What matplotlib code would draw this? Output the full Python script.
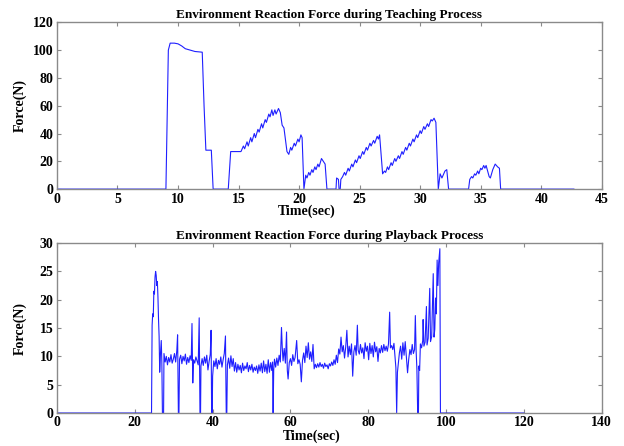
import matplotlib
matplotlib.use("Agg")
import matplotlib.pyplot as plt

# teaching process: (time s, force N)
teach_pts = [
    (0, 0), (9.0, 0), (9.2, 100), (9.35, 105), (9.7, 105), (10.0, 104.5),
    (10.3, 103), (10.6, 101), (11.0, 100), (11.4, 99), (12.0, 98.5),
    (12.15, 60), (12.3, 28), (12.75, 28), (12.9, 0), (14.15, 0), (14.35, 27),
    (15.2, 27), (15.4, 31), (15.5, 29), (15.7, 34), (15.8, 31), (16.0, 37),
    (16.1, 34), (16.3, 40), (16.4, 37), (16.6, 43), (16.7, 41), (16.9, 47),
    (17.0, 44), (17.2, 50), (17.3, 48), (17.5, 54), (17.6, 52), (17.75, 57),
    (17.85, 53), (18.0, 57), (18.1, 54), (18.3, 58), (18.45, 55), (18.6, 46),
    (18.75, 44), (19.0, 27), (19.15, 25), (19.3, 30), (19.4, 28), (19.6, 33),
    (19.7, 31), (19.9, 36), (20.0, 34), (20.15, 39), (20.25, 37), (20.4, 0),
    (20.55, 10), (20.65, 8), (20.8, 12), (20.9, 10), (21.05, 14), (21.15, 12),
    (21.3, 16), (21.4, 14), (21.55, 18), (21.65, 16), (21.85, 22), (22.0, 20),
    (22.15, 18), (22.3, 0), (23.05, 0), (23.1, 8), (23.25, 7), (23.3, 0),
    (23.4, 0), (23.45, 7), (23.6, 9), (23.75, 12), (23.85, 10), (24.05, 15),
    (24.15, 13), (24.35, 18), (24.45, 16), (24.65, 21), (24.75, 19), (24.95, 24),
    (25.05, 22), (25.25, 27), (25.35, 25), (25.55, 30), (25.65, 28), (25.85, 33),
    (25.95, 31), (26.15, 35), (26.25, 33), (26.45, 38), (26.55, 36), (26.65, 39),
    (26.9, 11), (27.05, 13), (27.15, 12), (27.3, 16), (27.4, 14), (27.6, 19),
    (27.7, 17), (27.9, 22), (28.0, 20), (28.2, 24), (28.3, 22), (28.5, 27),
    (28.6, 25), (28.8, 30), (28.9, 28), (29.1, 33), (29.2, 31), (29.4, 36),
    (29.5, 34), (29.7, 39), (29.8, 37), (30.0, 42), (30.1, 40), (30.3, 45),
    (30.4, 43), (30.6, 47), (30.7, 45), (30.9, 50), (31.0, 49), (31.15, 51),
    (31.3, 48), (31.5, 0), (31.65, 11), (31.8, 8), (32.05, 13), (32.2, 14),
    (32.35, 0), (34.0, 0), (34.1, 7), (34.25, 9), (34.35, 8), (34.5, 11),
    (34.6, 10), (34.75, 13), (34.85, 11), (35.0, 15), (35.1, 14), (35.25, 17),
    (35.35, 15), (35.45, 17), (35.7, 9), (35.8, 8), (36.0, 14), (36.2, 18),
    (36.4, 16), (36.55, 15), (36.65, 0), (42.7, 0),
]

# playback process: (time s, force N)
playback_pts = [
    (0, 0), (24.3, 0), (24.45, 15.5), (24.6, 17.5), (24.75, 17), (24.9, 21.5),
    (25.05, 21.0), (25.2, 24.0), (25.35, 25.0), (25.5, 24.3), (25.65, 22.5),
    (25.8, 23.2), (25.95, 20.5), (26.1, 16.5), (26.25, 13.5), (26.4, 7.2),
    (26.6, 10.5), (26.8, 12.8), (26.95, 9.0), (27.1, 0), (27.4, 0), (27.5, 10.5),
    (27.8, 9), (28.1, 10), (28.4, 8.5), (28.7, 9.8), (29.0, 9), (29.3, 10.3),
    (29.6, 8.8), (29.9, 9.5), (30.2, 10.5), (30.5, 9), (30.8, 11), (31.0, 13.8),
    (31.2, 0), (31.35, 0), (31.5, 9.5), (31.8, 10.2), (32.1, 8.7), (32.4, 10),
    (32.7, 9.2), (33.0, 10.4), (33.3, 8.6), (33.6, 9.8), (33.9, 8.9), (34.2, 10.1),
    (34.5, 9.3), (34.7, 15.8), (34.9, 5.3), (35.1, 9.4), (35.4, 8.8), (35.7, 9.9),
    (36.0, 9.2), (36.3, 8.5), (36.55, 16.8), (36.75, 0), (36.9, 0), (37.0, 8.3),
    (37.3, 9.6), (37.6, 8.4), (37.9, 9.9), (38.2, 8.8), (38.5, 10.2), (38.8, 7.6),
    (39.1, 9.1), (39.4, 10.4), (39.6, 14.6), (39.75, 0), (39.9, 0), (40.0, 6.5),
    (40.3, 9.2), (40.6, 8.2), (40.9, 9.6), (41.2, 7.8), (41.5, 9.3), (41.8, 8.6),
    (42.1, 9.9), (42.4, 8.1), (42.7, 9.4), (43.0, 10.5), (43.3, 13.6), (43.5, 0),
    (43.65, 0), (43.8, 8.5), (44.1, 9.7), (44.4, 7.9), (44.7, 10.1), (45.0, 8.2),
    (45.3, 9.6), (45.6, 7.4), (45.9, 8.9), (46.2, 7.2), (46.5, 8.6), (46.8, 7.6),
    (47.1, 8.4), (47.4, 7.1), (47.7, 8.8), (48.0, 7.5), (48.3, 8.3), (48.6, 7.8),
    (48.9, 8.9), (49.2, 7.3), (49.5, 8.4), (49.8, 7.6), (50.1, 8.6), (50.4, 7.2),
    (50.7, 8.1), (51.0, 7.5), (51.3, 8.3), (51.6, 7.0), (51.9, 8.5), (52.2, 7.4),
    (52.5, 8.8), (52.8, 7.1), (53.1, 9.2), (53.4, 7.3), (53.7, 8.6), (54.0, 7.0),
    (54.3, 9.4), (54.6, 7.2), (54.9, 8.9), (55.2, 7.5), (55.4, 9.0), (55.55, 0),
    (55.7, 7.6), (55.9, 9.5), (56.2, 8.1), (56.5, 9.7), (56.8, 8.4), (57.1, 10.2),
    (57.4, 9.0), (57.7, 15.1), (57.9, 11.5), (58.1, 9.2), (58.4, 11.4), (58.7, 8.8),
    (59.0, 14.3), (59.2, 7.5), (59.4, 6.0), (59.7, 8.9), (60.0, 9.6), (60.3, 8.4),
    (60.6, 10.3), (60.9, 9.1), (61.2, 9.8), (61.6, 12.8), (61.9, 8.7), (62.2, 9.4),
    (62.5, 8.6), (62.8, 5.5), (63.1, 9.3), (63.4, 10.6), (63.7, 8.9), (64.0, 11.8),
    (64.3, 9.8), (64.6, 12.4), (64.9, 9.5), (65.2, 10.8), (65.5, 9.1), (65.8, 12.1),
    (66.1, 7.8), (66.4, 8.6), (66.7, 8.0), (67.0, 8.7), (67.3, 8.1), (67.6, 8.9),
    (67.9, 8.2), (68.2, 8.6), (68.5, 7.9), (68.8, 8.8), (69.1, 8.2), (69.4, 8.5),
    (69.7, 7.8), (70.0, 8.7), (70.3, 8.3), (70.6, 9.0), (70.9, 8.4), (71.2, 9.4),
    (71.5, 8.6), (71.8, 10.2), (72.1, 8.9), (72.4, 11.3), (72.7, 10.4), (73.0, 13.4),
    (73.3, 10.8), (73.6, 11.9), (73.9, 9.7), (74.2, 11.6), (74.5, 14.6), (74.8, 9.9),
    (75.1, 11.8), (75.4, 10.3), (75.7, 12.2), (76.0, 6.5), (76.3, 10.8), (76.6, 11.9),
    (76.9, 10.2), (77.2, 15.5), (77.4, 11.1), (77.7, 10.4), (78.0, 12.1), (78.3, 10.6),
    (78.6, 11.5), (78.9, 9.6), (79.2, 12.4), (79.5, 10.9), (79.8, 11.8), (80.1, 9.4),
    (80.4, 12.3), (80.7, 10.5), (81.0, 11.9), (81.3, 9.9), (81.6, 12.5), (81.9, 10.8),
    (82.2, 11.7), (82.5, 9.1), (82.8, 11.4), (83.1, 10.6), (83.4, 11.9), (83.7, 10.7),
    (84.0, 12.1), (84.3, 11.0), (84.6, 11.8), (84.9, 10.9), (85.2, 12.2), (85.5, 17.8),
    (85.7, 11.5), (86.0, 11.9), (86.3, 11.2), (86.6, 12.3), (86.9, 9.8), (87.1, 8.0),
    (87.3, 0), (87.5, 7.2), (87.7, 8.5), (88.0, 10.6), (88.3, 11.8), (88.6, 9.5),
    (88.9, 12.4), (89.2, 10.2), (89.5, 12.6), (89.8, 9.8), (90.1, 7.1), (90.4, 9.5),
    (90.7, 11.2), (91.0, 10.3), (91.3, 12.1), (91.6, 10.5), (91.9, 11.2), (92.1, 17.2),
    (92.3, 11.0), (92.5, 7.8), (92.7, 0), (92.9, 0), (93.0, 8.3), (93.2, 7.5),
    (93.4, 12.2), (93.7, 11.5), (94.0, 12.8), (94.1, 16.5), (94.3, 11.8), (94.6, 12.5),
    (94.95, 18.8), (95.1, 12.0), (95.4, 13.2), (95.8, 22.0), (96.0, 12.6), (96.3, 13.5),
    (96.7, 24.6), (96.9, 13.4), (97.1, 14.8), (97.3, 20.3), (97.5, 17.5), (97.7, 27.0),
    (97.9, 22.5), (98.1, 26.5), (98.4, 29.0), (98.55, 0), (120, 0),
]

teach_time, teach_force = zip(*teach_pts)
pb_time, pb_force = zip(*playback_pts)

plt.rcParams['font.family'] = ['Liberation Serif', 'DejaVu Serif']
plt.rcParams['font.weight'] = 'bold'

line_color = '#1f1fff'
spine_color = '#8a8a8a'

fig = plt.figure(figsize=(6.24, 4.46), dpi=100)
ax1 = fig.add_axes([0.0913, 0.576, 0.873, 0.374])
ax2 = fig.add_axes([0.0913, 0.074, 0.873, 0.381])

panels = [
    (ax1, teach_time, teach_force, 'Environment Reaction Force during Teaching Process',
     (0, 45), range(0, 46, 5), (0, 120), range(0, 121, 20), -0.092, 0.459),
    (ax2, pb_time, pb_force, 'Environment Reaction Force during Playback Process',
     (0, 140), range(0, 141, 20), (0, 30), range(0, 31, 5), -0.1, 0.468),
]

for ax, t, f, title, xlim, xt, ylim, yt, xl_y, xl_x in panels:
    ax.plot(t, f, color=line_color, linewidth=0.8)
    ax.set_xlim(*xlim)
    ax.set_ylim(*ylim)
    ax.set_xticks(list(xt))
    ax.set_yticks(list(yt))
    ax.set_title(title, fontsize=9.5, fontweight='bold', pad=3)
    ax.set_xlabel('Time(sec)', fontsize=10, fontweight='bold')
    ax.set_ylabel('Force(N)', fontsize=10, fontweight='bold')
    ax.xaxis.set_label_coords(xl_x, xl_y)
    ax.yaxis.set_label_coords(-0.055, 0.5)
    ax.tick_params(direction='in', top=True, right=True, length=3,
                   color=spine_color, labelsize=10, pad=2.5)
    for lab in ax.get_xticklabels() + ax.get_yticklabels():
        lab.set_fontweight('bold')
    for s in ax.spines.values():
        s.set_color(spine_color)
        s.set_linewidth(1.0)

fig.savefig('out.png', dpi=100)
